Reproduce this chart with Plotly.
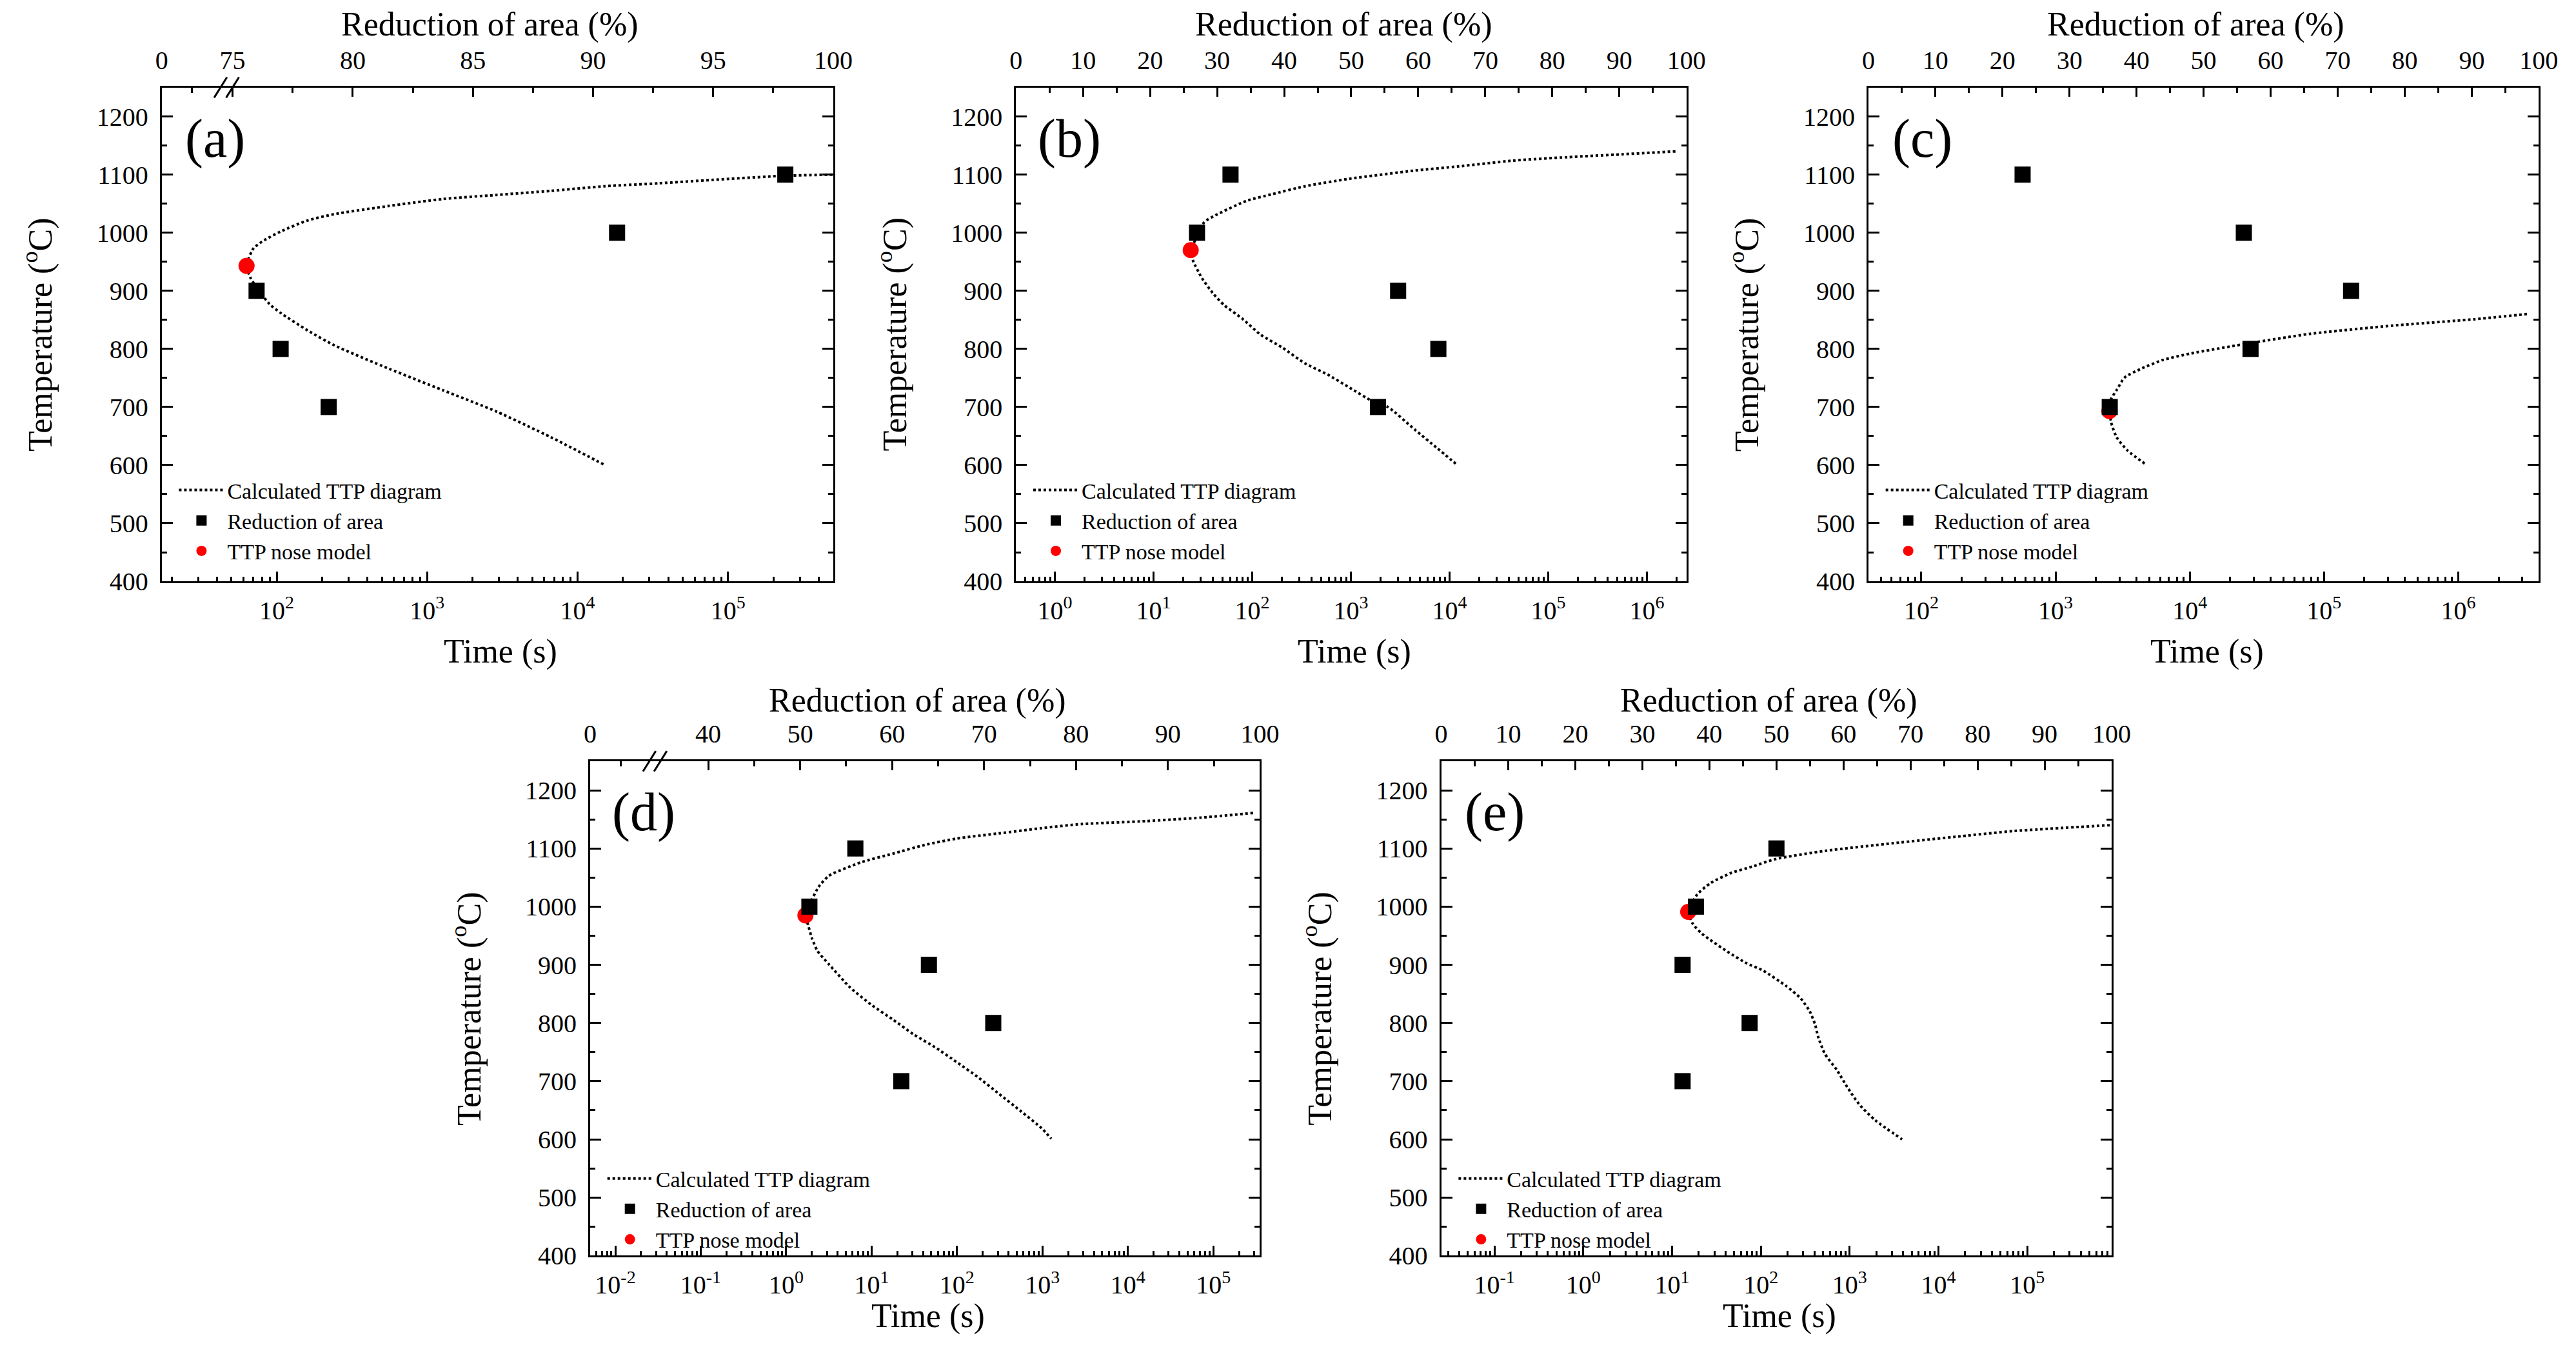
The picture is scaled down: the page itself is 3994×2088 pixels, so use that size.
import plotly.graph_objects as go

# ======================= DATA =======================
# ---- panel (a) ----
a_ttp_time = [494000, 236600, 79400, 34700, 15100, 6640, 2900, 1270, 555, 242, 160, 106, 82.6, 70.0,
              63.0, 67.3, 76.2, 89.7, 106, 160, 242, 555, 1270, 2900, 6640, 15200]
a_ttp_temp = [1100, 1098, 1091, 1085, 1080, 1072, 1065, 1058, 1046, 1032, 1021, 1002, 987, 973,
              943, 921, 900, 877, 862, 832, 806, 766, 729, 692, 648, 600]
a_ra = [98, 91, 76, 77, 79]
a_ra_temp = [1100, 1000, 900, 800, 700]
a_nose_time = [63.0]
a_nose_temp = [943]

# ---- panel (b) ----
b_ttp_time = [1.945e6, 5.62e5, 1.563e5, 4.355e4, 1.211e4, 4446, 977, 343, 157, 88.1, 42.4, 32.6, 27.2,
              23.8, 25.1, 30.9, 40.3, 52.2, 79.4, 120.5, 203, 343, 579, 977, 1648, 2371, 4446, 7379, 12020]
b_ttp_temp = [1140, 1135, 1130, 1124, 1114, 1107, 1093, 1080, 1066, 1055, 1030, 1018, 991,
              970, 952, 922, 895, 875, 852, 825, 802, 775, 756, 733, 710, 700, 661, 630, 600]
b_ra = [32, 27, 57, 63, 54]
b_ra_temp = [1100, 1000, 900, 800, 700]
b_nose_time = [23.8]
b_nose_temp = [970]

# ---- panel (c) ----
c_ttp_time = [3.25e6, 1.31e6, 3.22e5, 7.9e4, 2.83e4, 1.01e4, 6320, 4350, 3280, 2850, 2600,
              2520, 2600, 2850, 3440, 4780]
c_ttp_temp = [860, 851, 840, 826, 810, 792, 781, 766, 751, 729, 714,
              695, 673, 648, 625, 600]
c_ra = [23, 56, 72, 57, 36]
c_ra_temp = [1100, 1000, 900, 800, 700]
c_nose_time = [2520]
c_nose_temp = [693]

# ---- panel (d) ----
d_ttp_time = [2.917e5, 7.18e4, 1.637e4, 2917, 979, 311, 98.6, 41.8, 17.7, 7.46, 3.16, 2.40, 2.0, 1.81,
              1.68, 1.81, 2.0, 2.32, 3.16, 5.61, 9.98, 17.7, 31.3, 55.7, 98.6, 175, 311, 552, 979, 1268]
d_ttp_temp = [1161, 1153, 1147, 1142, 1135, 1126, 1117, 1106, 1091, 1076, 1053, 1034, 1012, 997,
              985, 968, 946, 924, 901, 861, 831, 806, 780, 758, 733, 707, 678, 649, 619, 601]
d_ra = [56, 51, 64, 71, 61]
d_ra_temp = [1100, 1000, 900, 800, 700]
d_nose_time = [1.68]
d_nose_temp = [985]

# ---- panel (e) ----
e_ttp_time = [8.51e5, 7.08e4, 1.778e4, 3090, 537, 148, 80.7, 46.5, 26.8, 19.2, 16.4,
              15.2, 17.2, 21.5, 26.8, 41.7, 68.4, 106, 191, 282, 355, 407, 442, 525, 718, 955, 1282,
              1932, 3890]
e_ttp_temp = [1140, 1130, 1121, 1109, 1096, 1082, 1069, 1058, 1040, 1021, 1003,
              991, 970, 954, 943, 923, 903, 890, 864, 842, 820, 798, 776, 747, 719, 688, 660,
              633, 600]
e_ra = [50, 38, 36, 46, 36]
e_ra_temp = [1100, 1000, 900, 800, 700]
e_nose_time = [15.2]
e_nose_temp = [991]

# ---- labels / ticks ----
panel_labels = ["(a)", "(b)", "(c)", "(d)", "(e)"]
legend_names = ["Calculated TTP diagram", "Reduction of area", "TTP nose model"]
temp_ticks = [400, 500, 600, 700, 800, 900, 1000, 1100, 1200]
time_exponents = {"a": [2, 3, 4, 5], "b": [0, 1, 2, 3, 4, 5, 6], "c": [2, 3, 4, 5, 6],
                  "d": [-2, -1, 0, 1, 2, 3, 4, 5], "e": [-1, 0, 1, 2, 3, 4, 5]}
ra_ticks_full = [0, 10, 20, 30, 40, 50, 60, 70, 80, 90, 100]
ra_ticks_a = [75, 80, 85, 90, 95, 100]
ra_ticks_d = [40, 50, 60, 70, 80, 90, 100]

# ======================= LAYOUT CONSTANTS =======================
W, H = 3994, 2088
FONT = "Liberation Serif"
# pixel boxes: left, right, top, bottom
BOX = {"a": (235, 1287, 129, 903), "b": (1573, 2623, 129, 903), "c": (2908, 3958, 129, 903),
       "d": (906, 1955, 1185, 1960), "e": (2239, 3289, 1185, 1960)}
LOGRANGE = {"a": [1.235, 5.70], "b": [-0.394, 6.40], "c": [1.606, 6.60],
            "d": [-2.295, 5.545], "e": [-1.599, 5.95]}
RA_START = {"a": 72.05, "b": 0, "c": 0, "d": 27.15, "e": 0}
BREAKS = {"a": [74.5, 75.0], "d": [33.6, 34.8]}
YRANGE = [400, 1250]

panels = {
    "a": (a_ttp_time, a_ttp_temp, a_ra, a_ra_temp, a_nose_time, a_nose_temp),
    "b": (b_ttp_time, b_ttp_temp, b_ra, b_ra_temp, b_nose_time, b_nose_temp),
    "c": (c_ttp_time, c_ttp_temp, c_ra, c_ra_temp, c_nose_time, c_nose_temp),
    "d": (d_ttp_time, d_ttp_temp, d_ra, d_ra_temp, d_nose_time, d_nose_temp),
    "e": (e_ttp_time, e_ttp_temp, e_ra, e_ra_temp, e_nose_time, e_nose_temp),
}


def px(xp):
    return xp / W


def py(yp):
    return 1 - yp / H


fig = go.Figure()
layout = dict(width=W, height=H, margin=dict(l=0, r=0, t=0, b=0),
              paper_bgcolor="white", plot_bgcolor="white",
              font=dict(family=FONT, color="black", size=40), showlegend=True)
annotations = []
shapes = []

axis_common = dict(showline=True, linewidth=3, linecolor="black", ticks="inside",
                   tickwidth=3, tickcolor="black", showgrid=False, zeroline=False,
                   tickfont=dict(family=FONT, size=40, color="black"))

for i, key in enumerate(["a", "b", "c", "d", "e"], start=1):
    t_time, t_temp, ra, ra_temp, n_time, n_temp = panels[key]
    l, r, t, b = BOX[key]
    xdom = [px(l), px(r)]
    ydom = [py(b), py(t)]
    xb = "x" if i == 1 else f"x{i}"
    xt = f"x{i + 5}"
    yy = "y" if i == 1 else f"y{i}"
    leg = "legend" if i == 1 else f"legend{i}"

    # bottom log axis
    exps = time_exponents[key]
    lo, hi = LOGRANGE[key]
    minor_vals = []
    for n in range(int(lo) - 1, int(hi) + 2):
        for k in range(2, 10):
            v = k * 10.0 ** n
            if 10 ** lo <= v <= 10 ** hi:
                minor_vals.append(v)
    layout["xaxis" if i == 1 else f"xaxis{i}"] = dict(
        axis_common, type="log", range=[lo, hi], domain=xdom, anchor=yy,
        tickvals=[10.0 ** e for e in exps],
        ticktext=[f"10<sup>{e}</sup>" for e in exps],
        ticklen=15, ticklabelstandoff=8,
        minor=dict(tickvals=minor_vals, ticks="inside", ticklen=7, tickwidth=3, tickcolor="black"),
        mirror=False)

    # top reduction-of-area axis
    ra0 = RA_START[key]
    if key == "a":
        tv = [ra0] + ra_ticks_a
        mv = [73.3, 77.5, 82.5, 87.5, 92.5, 97.5]
    elif key == "d":
        tv = [ra0] + ra_ticks_d
        mv = [30.5, 45, 55, 65, 75, 85, 95]
    else:
        tv = ra_ticks_full
        mv = [5, 15, 25, 35, 45, 55, 65, 75, 85, 95]
    tt = ["0"] + [str(v) for v in tv[1:]]
    layout[f"xaxis{i + 5}"] = dict(
        axis_common, range=[ra0, 100], domain=xdom, anchor=yy, overlaying=xb, side="top",
        tickvals=tv, ticktext=tt, ticklen=14, ticklabelstandoff=10,
        minor=dict(tickvals=mv, ticks="inside", ticklen=8, tickwidth=3, tickcolor="black"))

    # y axis
    layout["yaxis" if i == 1 else f"yaxis{i}"] = dict(
        axis_common, range=YRANGE, domain=ydom, anchor=xb, mirror="ticks",
        tickvals=temp_ticks, ticktext=[str(v) for v in temp_ticks], ticklen=17,
        ticklabelstandoff=10,
        minor=dict(tickvals=[450, 550, 650, 750, 850, 950, 1050, 1150, 1250], ticks="inside",
                   ticklen=8, tickwidth=3, tickcolor="black"))

    # traces
    fig.add_trace(go.Scatter(x=t_time, y=t_temp, mode="lines", name=legend_names[0],
                             line=dict(color="black", width=4, dash="dot", shape="spline", smoothing=0.6),
                             xaxis=xb, yaxis=yy, legend=leg))
    fig.add_trace(go.Scatter(x=ra, y=ra_temp, mode="markers", name=legend_names[1],
                             marker=dict(symbol="square", size=25, color="black"),
                             xaxis=xt, yaxis=yy, legend=leg))
    fig.add_trace(go.Scatter(x=n_time, y=n_temp, mode="markers", name=legend_names[2],
                             marker=dict(symbol="circle", size=25, color="#ff0000"),
                             xaxis=xb, yaxis=yy, legend=leg))

    # legend
    top_row = key in ("a", "b", "c")
    leg_top = b - (172 if top_row else 150)
    layout[leg] = dict(x=px(l + 22), y=py(leg_top), xanchor="left", yanchor="top",
                       bgcolor="rgba(0,0,0,0)", borderwidth=0, itemwidth=70,
                       tracegroupgap=0, font=dict(family=FONT, size=34, color="black"))

    # annotations
    cx = (l + r) / 2
    cy = (t + b) / 2
    annotations.append(dict(text=panel_labels[i - 1], xref="paper", yref="paper",
                            x=px(l + 84), y=py(t + 80), xanchor="center", yanchor="middle",
                            showarrow=False, font=dict(family=FONT, size=84, color="black")))
    annotations.append(dict(text="Reduction of area (%)", xref="paper", yref="paper",
                            x=px(cx - 12), y=py(t - (99 if top_row else 95)), xanchor="center",
                            yanchor="middle", showarrow=False,
                            font=dict(family=FONT, size=52, color="black")))
    annotations.append(dict(text="Time (s)", xref="paper", yref="paper",
                            x=px(cx + 5), y=py(b + (110 if top_row else 95)), xanchor="center",
                            yanchor="middle", showarrow=False,
                            font=dict(family=FONT, size=52, color="black")))
    annotations.append(dict(text="Temperature (<sup>o</sup>C)", xref="paper", yref="paper",
                            x=px(l - 193), y=py(cy), xanchor="center", yanchor="middle",
                            textangle=-90, showarrow=False,
                            font=dict(family=FONT, size=52, color="black")))

    # axis-break marks on top axis
    if key in BREAKS:
        for bv in BREAKS[key]:
            xpix = l + (bv - ra0) / (100 - ra0) * (r - l)
            shapes.append(dict(type="line", xref="paper", yref="paper",
                               x0=px(xpix - 10), y0=py(t + 16), x1=px(xpix + 10), y1=py(t - 16),
                               line=dict(color="black", width=3)))

layout["annotations"] = annotations
layout["shapes"] = shapes
fig.update_layout(**layout)
fig.write_html("out.html")
